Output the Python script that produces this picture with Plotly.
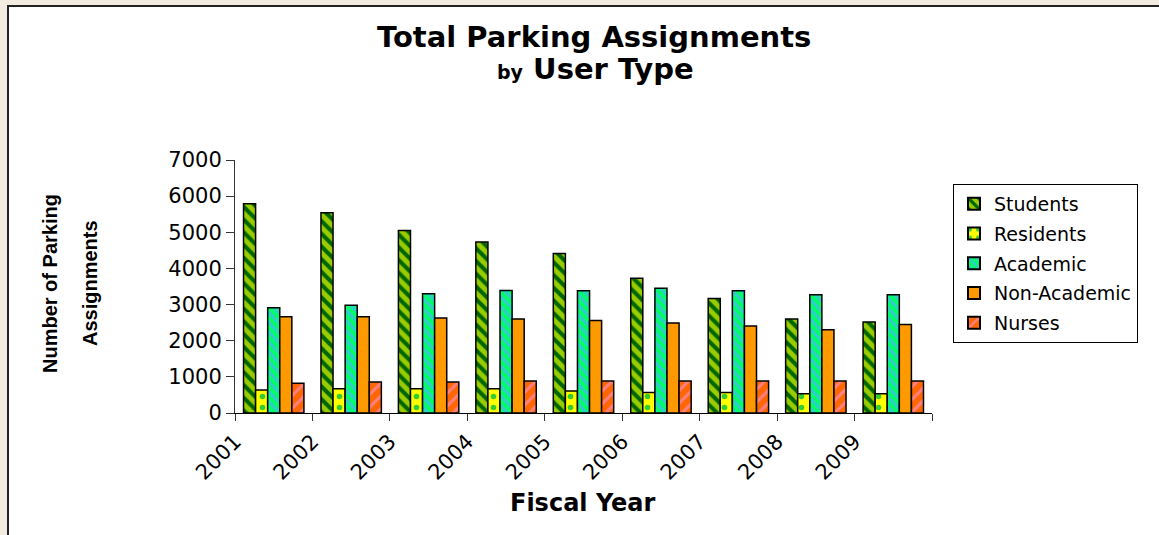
import plotly.graph_objects as go

years = ["2001", "2002", "2003", "2004", "2005", "2006", "2007", "2008", "2009"]
students = [5790, 5540, 5050, 4730, 4410, 3730, 3170, 2600, 2520]
residents = [635, 670, 670, 670, 610, 570, 570, 535, 535]
academic = [2910, 2980, 3300, 3390, 3380, 3450, 3380, 3270, 3270]
non_academic = [2660, 2660, 2630, 2600, 2560, 2490, 2410, 2300, 2450]
nurses = [820, 855, 855, 885, 885, 885, 885, 885, 885]

series_names = ["Students", "Residents", "Academic", "Non-Academic", "Nurses"]
series_values = [students, residents, academic, non_academic, nurses]
bg_colors = ["#99CC00", "#FFFF00", "#00FF66", "#FF9900", "#FF6600"]
fg_colors = ["#006600", "#33CC33", "#33CCCC", "#FF9900", "#FF8080"]
shapes = ["\\", ".", "\\", "", "/"]
sizes = [9, 11, 7, 8, 9]
solid = [0.45, 0.2, 0.45, 0.3, 0.35]

xpos = [i + 0.5 for i in range(len(years))]

FONT = "DejaVu Sans, Liberation Sans, Arial, sans-serif"

fig = go.Figure()
for i, name in enumerate(series_names):
    pat = dict(shape=shapes[i], fgcolor=fg_colors[i], bgcolor=bg_colors[i],
               size=sizes[i], solidity=solid[i], fillmode="replace")
    fig.add_trace(go.Bar(
        x=xpos, y=series_values[i], name=name, legendgroup=name,
        marker=dict(color=bg_colors[i], line=dict(color="#000000", width=1.5),
                    pattern=pat),
    ))

W, H = 1159, 535
L, R, T, B = 235, 932, 160, 413

def px_x(p):
    return (p - L) / (R - L)

def px_y(p):
    return (B - p) / (B - T)

fig.update_layout(
    width=W, height=H,
    margin=dict(l=L, r=W - R, t=T, b=H - B),
    paper_bgcolor="#F2EBDF",
    plot_bgcolor="#FFFFFF",
    barmode="group", bargap=0.22, bargroupgap=0,
    font=dict(family=FONT, color="#000000"),
    showlegend=True,
    legend=dict(x=px_x(953), y=px_y(184), xanchor="left", yanchor="top",
                bgcolor="#FFFFFF", bordercolor="#000000", borderwidth=1,
                font=dict(size=19, family=FONT), tracegroupgap=2,
                itemsizing="constant", entrywidth=200, entrywidthmode="pixels"),
    xaxis=dict(range=[0, 9], tickmode="array", tickvals=list(range(10)),
               ticktext=years + [""], tickangle=-45, ticks="outside", ticklen=7,
               tickcolor="#333333", showline=True, linecolor="#000000", linewidth=1,
               showgrid=False, zeroline=False, tickfont=dict(size=21, family=FONT)),
    yaxis=dict(range=[0, 7000], tickvals=[0, 1000, 2000, 3000, 4000, 5000, 6000, 7000],
               ticks="outside", ticklen=8, tickcolor="#333333",
               showline=True, linecolor="#333333", linewidth=1,
               showgrid=False, zeroline=False, tickfont=dict(size=21, family=FONT)),
    shapes=[dict(type="rect", xref="paper", yref="paper", layer="below",
                 x0=px_x(8), x1=px_x(1175), y0=px_y(550), y1=px_y(6),
                 fillcolor="#FFFFFF", line=dict(color="#222222", width=2))],
    annotations=[
        dict(text="<b>Total Parking Assignments</b>", xref="paper", yref="paper",
             x=px_x(594), y=px_y(37), xanchor="center", yanchor="middle",
             showarrow=False, font=dict(size=29, family=FONT)),
        dict(text="<b><span style='font-size:19px'>by</span> User Type</b>",
             xref="paper", yref="paper",
             x=px_x(595), y=px_y(69), xanchor="center", yanchor="middle",
             showarrow=False, font=dict(size=29, family=FONT)),
        dict(text="<b>Number of Parking</b>", xref="paper", yref="paper",
             x=px_x(50), y=px_y(284), xanchor="center", yanchor="middle",
             textangle=-90, showarrow=False,
             font=dict(size=20, family="Liberation Sans Narrow, Liberation Sans, Arial")),
        dict(text="<b>Assignments</b>", xref="paper", yref="paper",
             x=px_x(90), y=px_y(283), xanchor="center", yanchor="middle",
             textangle=-90, showarrow=False,
             font=dict(size=20, family="Liberation Sans Narrow, Liberation Sans, Arial")),
        dict(text="<b>Fiscal Year</b>", xref="paper", yref="paper",
             x=px_x(583), y=px_y(503), xanchor="center", yanchor="middle",
             showarrow=False, font=dict(size=24, family=FONT)),
    ],
)

fig.write_html("out.html", config={"displayModeBar": False},
               post_script="document.body.style.margin='0';document.body.style.overflow='hidden';")
